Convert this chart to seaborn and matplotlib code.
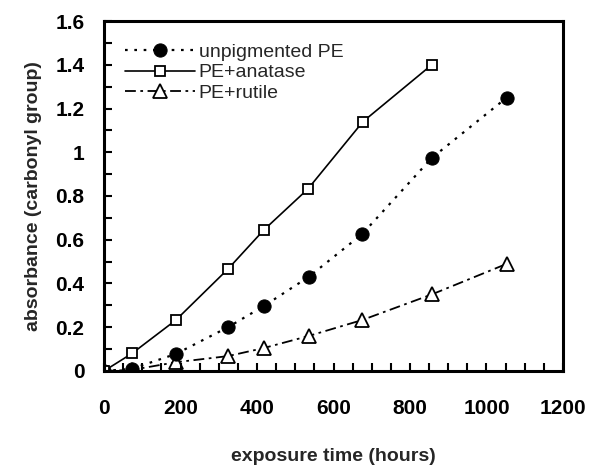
import numpy as np
import pandas as pd
import matplotlib
matplotlib.use("Agg")
import matplotlib.pyplot as plt
import seaborn as sns
from matplotlib.ticker import MultipleLocator, FuncFormatter

# --- data ---
hours = [0, 73, 188, 324, 418, 535, 675, 857, 1053]
unpigmented = [0.0, 0.01, 0.078, 0.20, 0.297, 0.43, 0.626, 0.974, 1.25]

hours_anatase = [0, 73, 188, 324, 418, 533, 677, 857]
anatase = [0.0, 0.08, 0.233, 0.466, 0.645, 0.832, 1.14, 1.40]

rutile = [0.0, 0.005, 0.04, 0.068, 0.105, 0.16, 0.233, 0.35, 0.49]

sns.set_style("ticks")
plt.rcParams["font.family"] = ["Liberation Sans", "DejaVu Sans"]
plt.rcParams["font.weight"] = "bold"
plt.rcParams["axes.axisbelow"] = False
# inward ticks, set before the axes exist
for a in ["xtick", "ytick"]:
    plt.rcParams[f"{a}.direction"] = "in"
    plt.rcParams[f"{a}.color"] = "black"
    plt.rcParams[f"{a}.labelsize"] = 15
    for w in ["major", "minor"]:
        plt.rcParams[f"{a}.{w}.size"] = 6
        plt.rcParams[f"{a}.{w}.width"] = 1.5
plt.rcParams["xtick.major.pad"] = 20
plt.rcParams["ytick.major.pad"] = 14

fig = plt.figure(figsize=(5.92, 4.67), dpi=100)
ax = fig.add_axes([0.1757, 0.2056, 0.7753, 0.7494])

df_u = pd.DataFrame({"x": hours, "y": unpigmented})
df_a = pd.DataFrame({"x": hours_anatase, "y": anatase})
df_r = pd.DataFrame({"x": hours, "y": rutile})

sns.lineplot(data=df_r, x="x", y="y", ax=ax, color="black", lw=1.3,
             linestyle=(0, (6, 2.5, 1.5, 2.5)), marker="^", markersize=9.5,
             markerfacecolor="white", markeredgecolor="black", markeredgewidth=1.3,
             label="PE+rutile")
sns.lineplot(data=df_u, x="x", y="y", ax=ax, color="black", lw=1.6,
             linestyle=(0, (1.2, 3)), marker="o", markersize=9.5,
             markerfacecolor="black", markeredgecolor="black",
             label="unpigmented PE")
sns.lineplot(data=df_a, x="x", y="y", ax=ax, color="black", lw=1.2,
             linestyle="-", marker="s", markersize=7.5,
             markerfacecolor="white", markeredgecolor="black", markeredgewidth=1.3,
             label="PE+anatase")

ax.set_xlim(0, 1200)
ax.set_ylim(0, 1.6)
ax.xaxis.set_major_locator(MultipleLocator(200))
ax.xaxis.set_minor_locator(MultipleLocator(50))
ax.yaxis.set_major_locator(MultipleLocator(0.2))
ax.yaxis.set_minor_locator(MultipleLocator(0.1))
ax.yaxis.set_major_formatter(FuncFormatter(lambda v, p: f"{v:g}" if abs(v) > 1e-9 else "0"))

for side in ["left", "bottom", "top", "right"]:
    ax.spines[side].set_linewidth(2.2)
    ax.spines[side].set_color("black")

ax.set_xlabel("exposure time (hours)", fontsize=14, fontweight="bold", labelpad=22)
ax.set_ylabel("absorbance (carbonyl group)", fontsize=14, fontweight="bold", labelpad=10)

handles, labels = ax.get_legend_handles_labels()
order = [labels.index(n) for n in ["unpigmented PE", "PE+anatase", "PE+rutile"]]
ax.legend([handles[i] for i in order], [labels[i] for i in order],
          loc="upper left", bbox_to_anchor=(0.02, 0.97), frameon=False,
          prop={"size": 14, "weight": "normal"}, handlelength=3.6,
          handletextpad=0.2, labelspacing=0.15, borderaxespad=0.2)

fig.savefig("out.png", dpi=100)
